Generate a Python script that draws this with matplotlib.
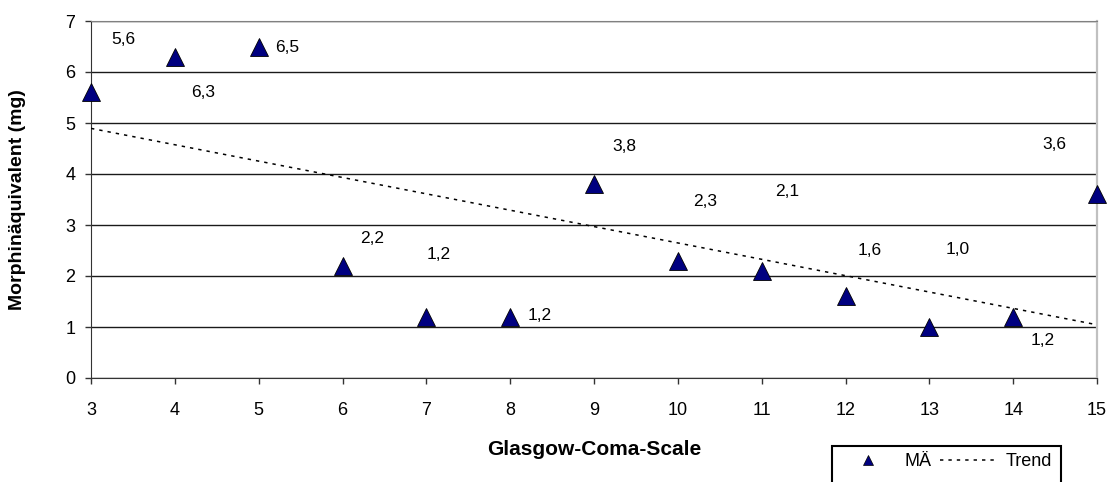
import matplotlib
matplotlib.use('Agg')
import matplotlib.pyplot as plt
from matplotlib.lines import Line2D
from matplotlib.patches import Rectangle
import numpy as np

plt.rcParams['font.family'] = ['Liberation Sans', 'DejaVu Sans']

# Glasgow-Coma-Scale vs. Morphinäquivalent (mg)
gcs = [3, 4, 5, 6, 7, 8, 9, 10, 11, 12, 13, 14, 15]
morphin = [5.6, 6.3, 6.5, 2.2, 1.2, 1.2, 3.8, 2.3, 2.1, 1.6, 1.0, 1.2, 3.6]

# where the value labels sit relative to their marker (pixels, x right / y down)
label_dx = [32, 28, 29, 30, 12, 30, 30, 27, 26, 24, 28, 30, -43]
label_dy = [-53, 36, 1, -27, -62, -1, -38, -59, -79, -46, -78, 24, -50]

W, H, DPI = 1112, 482, 100
fig = plt.figure(figsize=(W / DPI, H / DPI), dpi=DPI)
ax = fig.add_axes([91 / W, 1 - 378 / H, (1097 - 91) / W, (378 - 21) / H])

navy = '#000080'

# linear trend
slope, icpt = np.polyfit(gcs, morphin, 1)
xs = np.array([gcs[0], gcs[-1]])
ax.plot(xs, slope * xs + icpt, color='black', lw=1.1,
        linestyle=(0, (2.2, 3.3)), zorder=3)

ax.plot(gcs, morphin, linestyle='none', marker='^', ms=12.5, mfc=navy,
        mec='black', mew=0.6, zorder=4, clip_on=False)

px2pt = 72.0 / DPI
for x, y, dx, dy in zip(gcs, morphin, label_dx, label_dy):
    ax.annotate(('%.1f' % y).replace('.', ','), (x, y),
                xytext=(dx * px2pt, -dy * px2pt), textcoords='offset points',
                ha='center', va='center', fontsize=12.5, color='black')

ax.set_xlim(3, 15)
ax.set_ylim(0, 7)
ax.set_xticks(range(3, 16))
ax.set_yticks(range(0, 8))
ax.yaxis.grid(True, color='#1a1a1a', lw=1.0)
ax.set_axisbelow(True)

ax.spines['left'].set_color('#333333')
ax.spines['bottom'].set_color('#333333')
ax.spines['top'].set_color('#808080')
ax.spines['right'].set_color('#c0c0c0')
ax.spines['right'].set_linewidth(1.6)
ax.tick_params(axis='x', direction='out', length=4.3, width=1.0,
               color='#333333', pad=13, labelsize=13)
ax.tick_params(axis='y', direction='out', length=4.3, width=1.0,
               color='#333333', pad=7, labelsize=13)

fig.text(594 / W, 1 - 455 / H, 'Glasgow-Coma-Scale', ha='center',
         va='baseline', fontsize=15, fontweight='bold')
fig.text(18 / W, 1 - 199.5 / H, 'Morphinäquivalent (mg)', ha='center',
         va='center', rotation=90, fontsize=14, fontweight='bold')

# legend, its box runs off the bottom edge
handles = [Line2D([], [], linestyle='none', marker='^', ms=7.5, mfc=navy,
                  mec='black', mew=0.5),
           Line2D([], [], color='black', lw=1.1, linestyle=(0, (2.2, 3.3)))]
fig.legend(handles, ['MÄ', 'Trend'], ncol=2, frameon=False, fontsize=13,
           loc='center left', bbox_to_anchor=(839 / W, 1 - 462 / H),
           borderpad=0, borderaxespad=0, handlelength=3.2,
           handletextpad=0.44, columnspacing=0.44)
fig.add_artist(Rectangle((832 / W, 1 - 500 / H), (1061 - 832) / W, 54 / H,
                         transform=fig.transFigure, fill=False, ec='black',
                         lw=1.5, clip_on=False))

fig.savefig('out.png', dpi=DPI)
